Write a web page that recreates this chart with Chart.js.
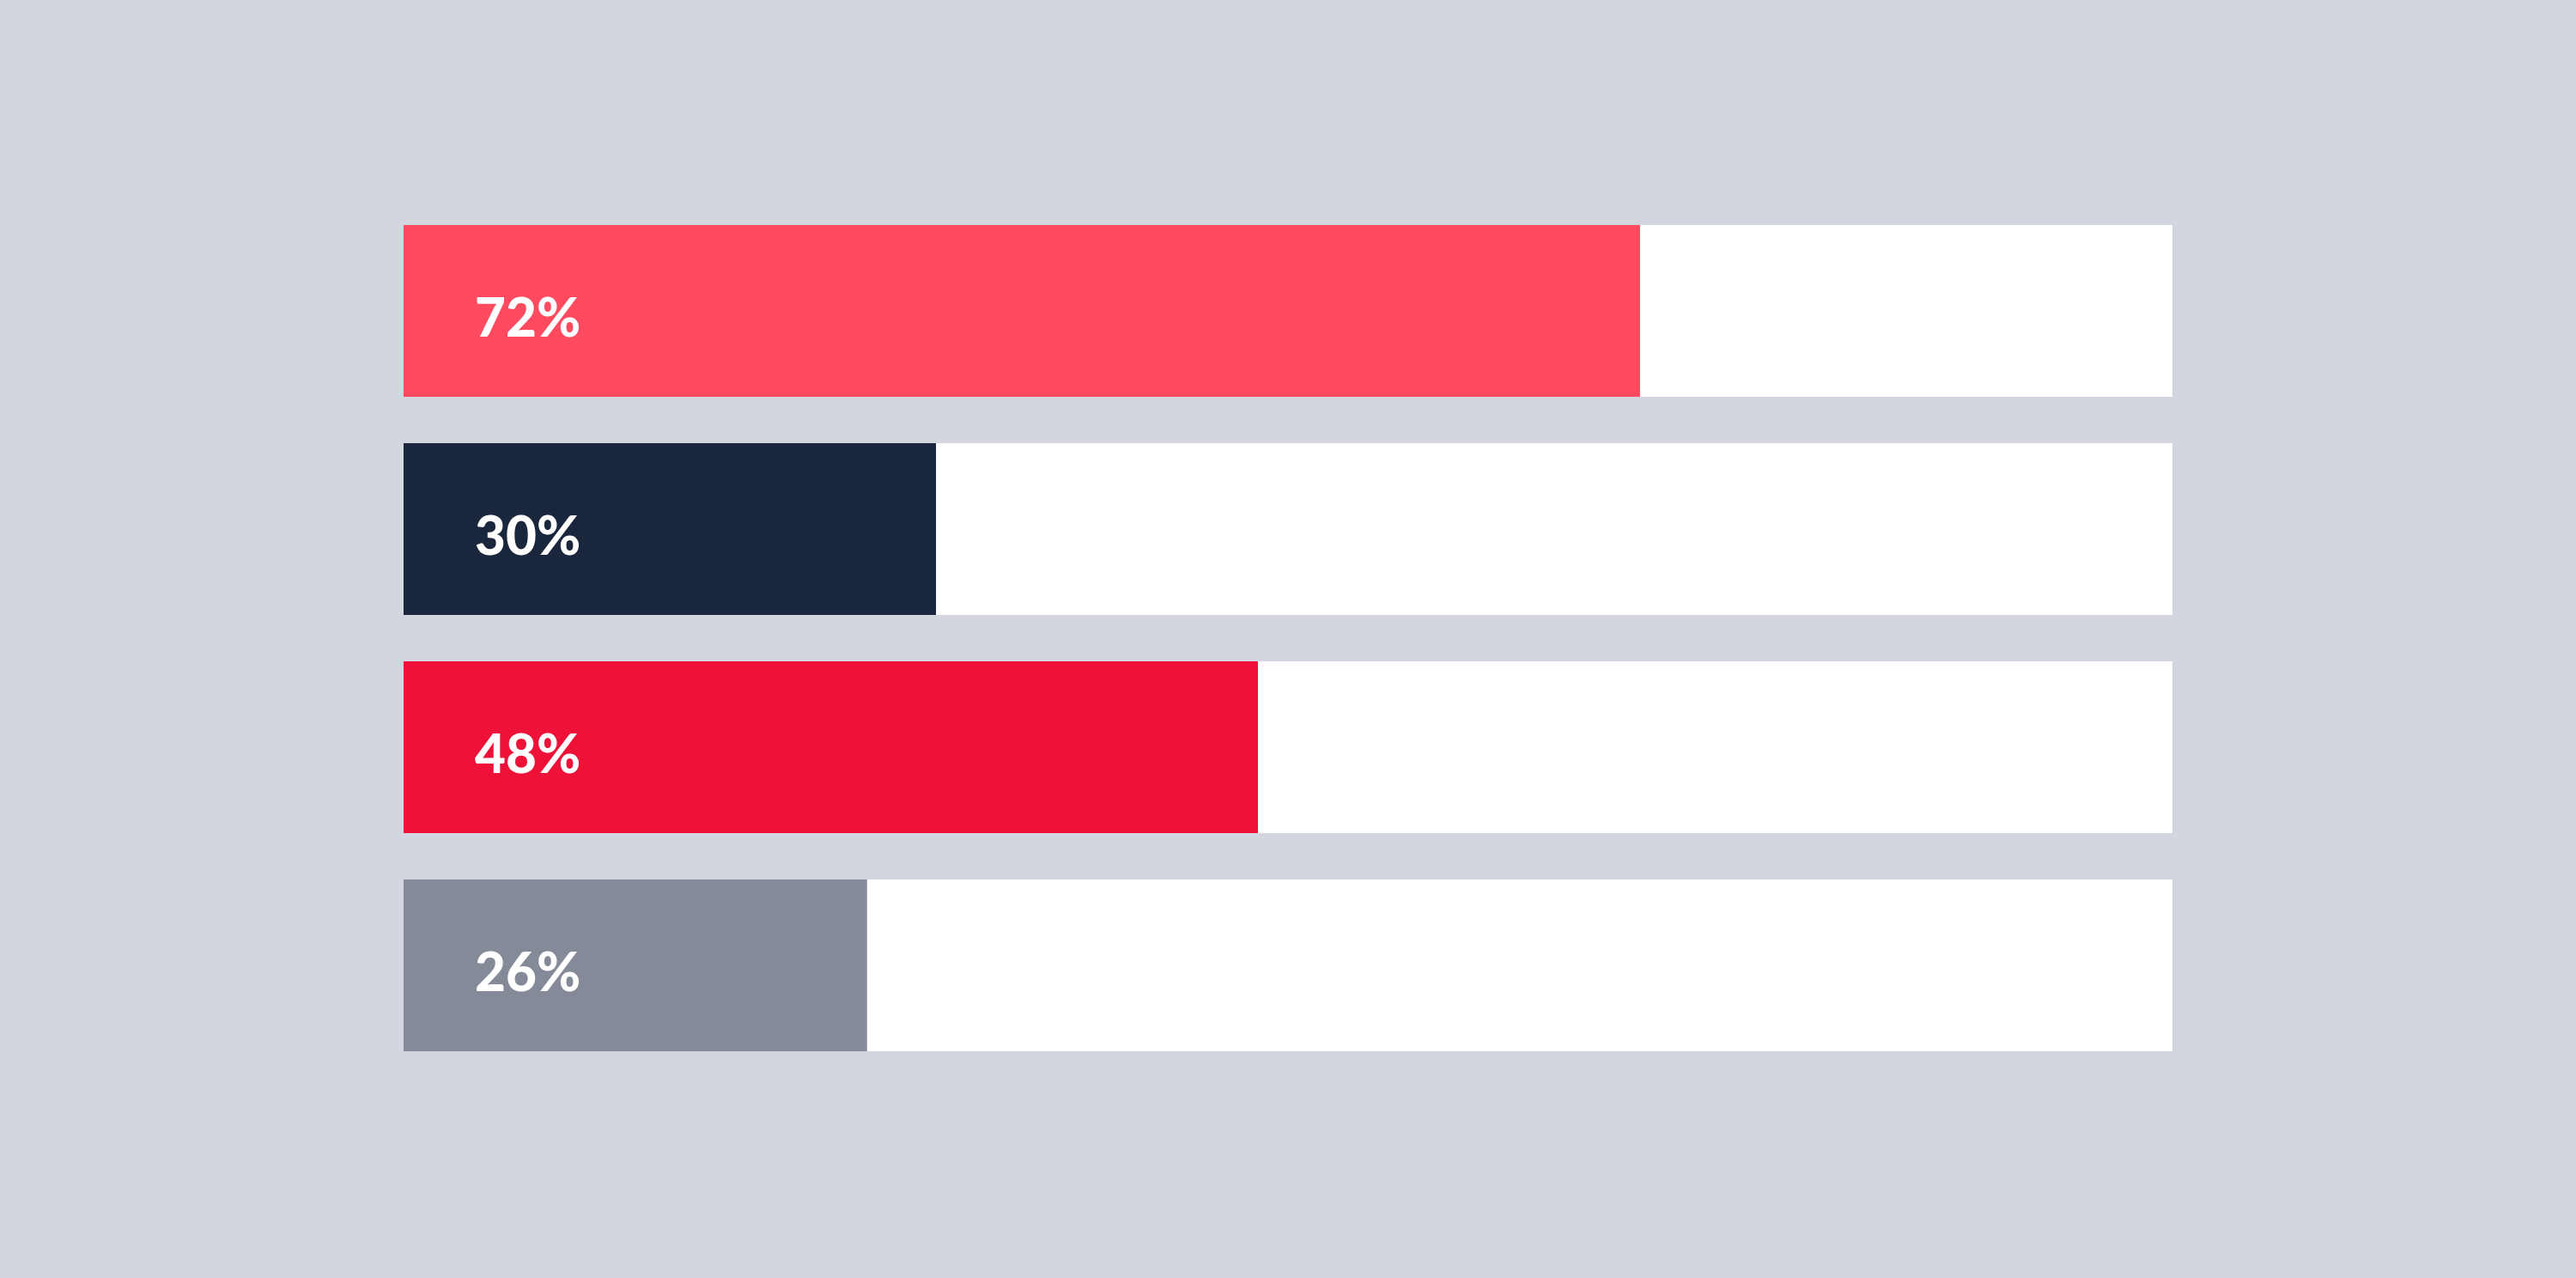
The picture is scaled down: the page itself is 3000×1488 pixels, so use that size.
<!DOCTYPE html>
<html>
<head>
<meta charset="utf-8">
<title>Progress bars</title>
<script src="https://cdn.jsdelivr.net/npm/chart.js@4.4.1/dist/chart.umd.min.js"></script>
<style>
    html, body { margin: 0; padding: 0; background: #d3d6df; }
    #wrap { width: 3000px; height: 1488px; }
</style>
</head>
<body>
<div id="wrap"><canvas id="barChart" width="3000" height="1488"></canvas></div>
<script>
// values as drawn (bar lengths) and the printed labels
const categories = ['A', 'B', 'C', 'D'];
const values = [69.9, 30.1, 48.3, 26.2];
const valueLabels = ['72%', '30%', '48%', '26%'];
const trackValues = [100, 100, 100, 100];
const barColors = ['#ff4a5f', '#1a263b', '#ee1238', '#848a98'];

const labelFont = '900 62px "Lato", "DejaVu Sans", sans-serif';

// writes the percentage inside each coloured bar
const insideLabels = {
    id: 'insideLabels',
    afterDatasetsDraw(chart) {
        const ctx = chart.ctx;
        const meta = chart.getDatasetMeta(0);
        ctx.save();
        ctx.fillStyle = '#ffffff';
        ctx.font = labelFont;
        ctx.textAlign = 'left';
        ctx.textBaseline = 'alphabetic';
        meta.data.forEach(function (bar, i) {
            const top = bar.y - bar.height / 2;
            ctx.fillText(valueLabels[i], bar.base + 83, top + 130);
        });
        ctx.restore();
    }
};

function draw() {
    new Chart(document.getElementById('barChart').getContext('2d'), {
        type: 'bar',
        data: {
            labels: categories,
            datasets: [{
                data: values,
                backgroundColor: barColors,
                borderWidth: 0,
                grouped: false,
                order: 1,
                categoryPercentage: 0.787,
                barPercentage: 1
            }, {
                data: trackValues,
                backgroundColor: '#ffffff',
                borderWidth: 0,
                grouped: false,
                order: 2,
                categoryPercentage: 0.787,
                barPercentage: 1
            }]
        },
        options: {
            indexAxis: 'y',
            responsive: false,
            animation: false,
            devicePixelRatio: 1,
            layout: {
                padding: { left: 470, right: 470, top: 235, bottom: 237 }
            },
            scales: {
                x: { display: false, min: 0, max: 100 },
                y: { display: false }
            },
            plugins: {
                legend: { display: false },
                tooltip: { enabled: false }
            }
        },
        plugins: [insideLabels]
    });
}

if (document.fonts && document.fonts.load) {
    document.fonts.load(labelFont).then(draw, draw);
} else {
    draw();
}
</script>
</body>
</html>
